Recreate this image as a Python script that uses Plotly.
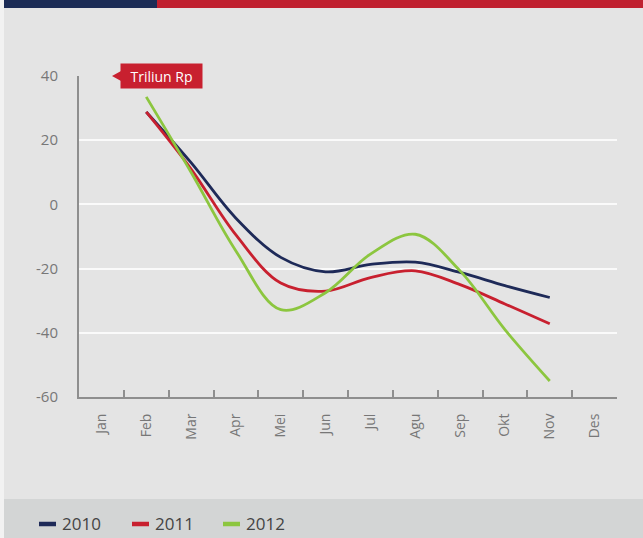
import plotly.graph_objects as go

# Monthly values (Triliun Rp); Jan and Des have no data
months = ["Jan", "Feb", "Mar", "Apr", "Mei", "Jun", "Jul", "Agu", "Sep", "Okt", "Nov", "Des"]
y2010 = [None, 28.8, 13.0, -4.3, -16.5, -21.0, -18.7, -18.0, -21.2, -25.3, -29.0, None]
y2011 = [None, 28.8, 11.0, -9.5, -24.5, -27.0, -22.8, -20.7, -25.0, -31.0, -37.2, None]
y2012 = [None, 33.5, 10.0, -14.5, -32.8, -27.5, -15.5, -9.3, -20.7, -39.0, -55.0, None]
series_names = ["2010", "2011", "2012"]
series_values = [y2010, y2011, y2012]
series_colors = ["#1e2a58", "#c8202f", "#8cc63f"]
y_ticks = [-60, -40, -20, 0, 20, 40]
unit_label = "Triliun Rp"

W, H = 643, 538
L, R, T, B = 79, 617, 76, 397  # plot-area pixel box

def px(x):
    return (x - L) / (R - L)

def py(y):
    return (B - y) / (B - T)

fig = go.Figure()
for name, vals, color in zip(series_names, series_values, series_colors):
    fig.add_trace(go.Scatter(
        x=months, y=vals, name=name, mode="lines",
        line=dict(color=color, width=2.8, shape="spline", smoothing=1),
        showlegend=False, hoverinfo="skip",
    ))

shapes = [
    # header bar
    dict(type="rect", xref="paper", yref="paper", x0=px(4), x1=px(157), y0=py(0), y1=py(8),
         fillcolor="#1c2c56", line_width=0, layer="below"),
    dict(type="rect", xref="paper", yref="paper", x0=px(157), x1=px(W), y0=py(0), y1=py(8),
         fillcolor="#c0202f", line_width=0, layer="below"),
    # legend band
    dict(type="rect", xref="paper", yref="paper", x0=px(4), x1=px(W), y0=py(499), y1=py(H),
         fillcolor="#d3d5d5", line_width=0, layer="below"),
    # left border strip
    dict(type="rect", xref="paper", yref="paper", x0=px(0), x1=px(4), y0=py(0), y1=py(H),
         fillcolor="#f2f2f2", line_width=0, layer="below"),
    # pointer of the unit tag
    dict(type="path", xref="paper", yref="paper",
         path=f"M {px(122)} {py(70.5)} L {px(112)} {py(76)} L {px(122)} {py(81.5)} Z",
         fillcolor="#c8202f", line_width=0),
]

annotations = [
    dict(text=unit_label, xref="paper", yref="paper", x=px(161.5), y=py(76),
         showarrow=False, font=dict(family="Open Sans", size=14, color="white", weight=500),
         width=75, height=18, align="center", valign="middle",
         bgcolor="#c8202f", borderpad=3, xanchor="center", yanchor="middle"),
]

# legend drawn as short thick strokes with labels
legend_x = [37, 130, 221]
for name, color, lx in zip(series_names, series_colors, legend_x):
    shapes.append(dict(type="line", xref="paper", yref="paper",
                       x0=px(lx + 2), x1=px(lx + 19), y0=py(524), y1=py(524),
                       line=dict(color=color, width=4.5)))
    annotations.append(dict(text=name, xref="paper", yref="paper", x=px(lx + 23), y=py(523),
                            showarrow=False, xanchor="left", yanchor="middle",
                            font=dict(family="Open Sans", size=17, color="#444444")))

fig.update_layout(
    width=W, height=H,
    margin=dict(l=L, r=W - R, t=T, b=H - B, pad=0),
    paper_bgcolor="#e4e4e4", plot_bgcolor="#e4e4e4",
    shapes=shapes, annotations=annotations,
    showlegend=False,
    xaxis=dict(
        type="category", categoryorder="array", categoryarray=months,
        range=[-0.5, 11.5], showgrid=False, zeroline=False,
        showline=True, linecolor="#8e8e8e", linewidth=2,
        ticks="inside", tickson="boundaries", ticklen=7, tickwidth=1.5, tickcolor="#8e8e8e",
        tickangle=-90, ticklabelstandoff=9,
        tickfont=dict(family="Open Sans", size=14, color="#777777"),
        fixedrange=True,
    ),
    yaxis=dict(
        range=[-60, 40], tickvals=y_ticks, ticktext=[str(v) for v in y_ticks],
        showgrid=True, gridcolor="#fafafa", gridwidth=1.5, zeroline=False,
        showline=True, linecolor="#8e8e8e", linewidth=2,
        ticks="", ticklabelstandoff=16,
        tickfont=dict(family="Open Sans", size=15, color="#777777"),
        fixedrange=True,
    ),
)

fig.write_html("out.html")
